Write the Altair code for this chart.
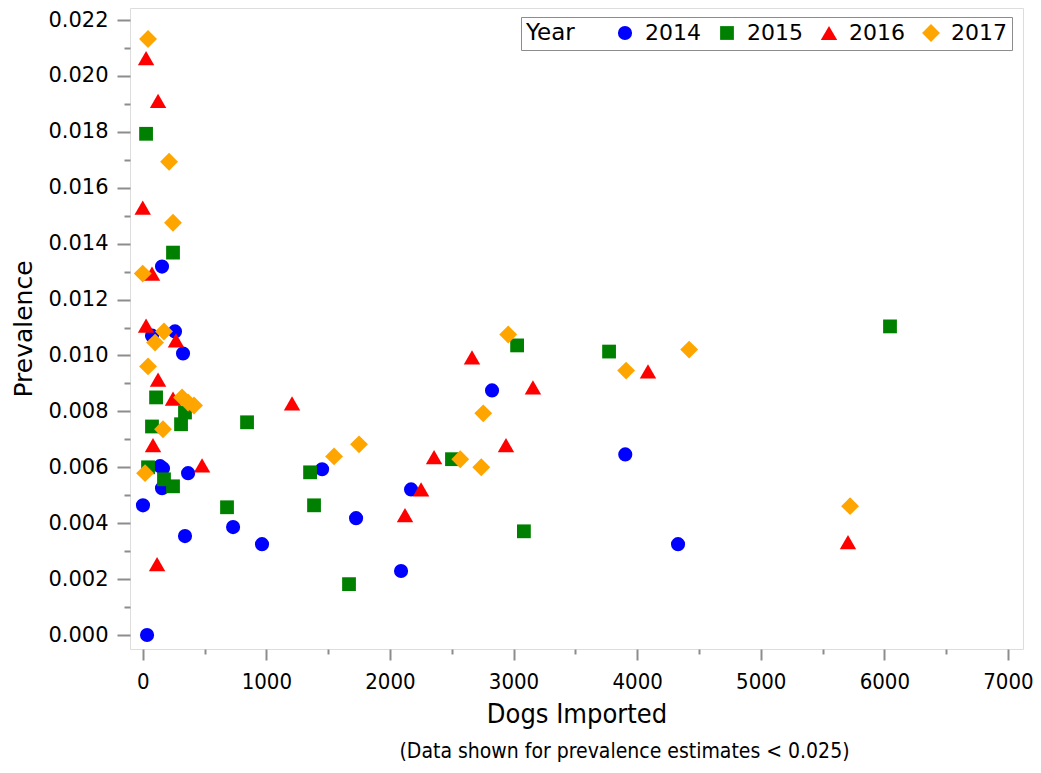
import altair as alt
import pandas as pd

years = ["2014", "2015", "2016", "2017"]
colors = ["#0000FF", "#008000", "#FF0000", "#FFA500"]
shapes = ["circle", "square", "triangle-up", "diamond"]
sizes = [200, 190, 270, 320]

dogs_2014 = [35, 2, 156, 75, 261, 326, 140, 164, 156, 367, 342, 731, 965, 1451, 1726, 2090, 2171, 2826, 3904, 4331]
prev_2014 = [0.0000, 0.00464, 0.01318, 0.01071, 0.01086, 0.01007, 0.00604, 0.00596, 0.00525, 0.00579, 0.00354,
             0.00386, 0.00325, 0.00593, 0.00418, 0.00229, 0.00521, 0.00875, 0.00646, 0.00325]

dogs_2015 = [27, 245, 108, 342, 75, 310, 844, 43, 172, 245, 682, 1354, 1386, 1669, 2502, 3029, 3084, 3773, 6046]
prev_2015 = [0.01793, 0.01368, 0.0085, 0.00796, 0.00746, 0.00754, 0.00761, 0.0060, 0.00557, 0.00532, 0.00457,
             0.00582, 0.00464, 0.00182, 0.00629, 0.01036, 0.00371, 0.01014, 0.01104]

dogs_2016 = [27, 124, 0, 75, 27, 269, 124, 245, 1208, 83, 480, 116, 2357, 2252, 2122, 2664, 2939, 3157, 4088, 5706]
prev_2016 = [0.02064, 0.01911, 0.01529, 0.01293, 0.01107, 0.01054, 0.00914, 0.00846, 0.00829, 0.00679, 0.00607,
             0.00254, 0.00636, 0.00521, 0.00429, 0.00993, 0.00679, 0.00886, 0.00943, 0.00332]

dogs_2017 = [43, 213, 245, 0, 172, 100, 43, 318, 367, 415, 164, 19, 1548, 1750, 2569, 2739, 2755, 2957, 3911, 4421, 5723]
prev_2017 = [0.02132, 0.01693, 0.01475, 0.01293, 0.01086, 0.01046, 0.00961, 0.0085, 0.00832, 0.00821, 0.00736,
             0.00579, 0.00639, 0.00682, 0.00629, 0.0060, 0.00793, 0.01075, 0.00946, 0.01021, 0.00461]

x_major = [0, 1000, 2000, 3000, 4000, 5000, 6000, 7000]
x_minor = [500, 1500, 2500, 3500, 4500, 5500, 6500]
y_major = [0.000, 0.002, 0.004, 0.006, 0.008, 0.010, 0.012, 0.014, 0.016, 0.018, 0.020, 0.022]
y_minor = [0.001, 0.003, 0.005, 0.007, 0.009, 0.011, 0.013, 0.015, 0.017, 0.019, 0.021]

rows = []
for yr, d, p in zip(years, [dogs_2014, dogs_2015, dogs_2016, dogs_2017],
                    [prev_2014, prev_2015, prev_2016, prev_2017]):
    for a, b in zip(d, p):
        rows.append({"year": yr, "dogs": a, "prev": b})
df = pd.DataFrame(rows)

xscale = alt.Scale(domain=[-103, 7122], nice=False, zero=False)
yscale = alt.Scale(domain=[-0.0005, 0.02243], nice=False, zero=False)

GRAY = "#8c8c8c"
COND = "DejaVu Sans Condensed"
SANS = "DejaVu Sans"

legend = alt.Legend(
    title="Year", orient="none", legendX=391, legendY=9, direction="horizontal",
    titleOrient="left", titleFont=SANS, titleFontSize=23, titleFontWeight="normal",
    titleColor="black", titlePadding=39, labelFont=SANS, labelFontSize=22,
    labelColor="black", labelOffset=9, symbolStrokeWidth=0,
    columnPadding=15, padding=5, strokeColor=GRAY, fillColor="white",
)

points = alt.Chart(df).mark_point(filled=True, opacity=1, strokeWidth=0).encode(
    x=alt.X("dogs:Q", scale=xscale, axis=alt.Axis(
        values=x_major, format="d", tickSize=11, tickWidth=2, tickColor=GRAY,
        domain=False, grid=False, labelFont=COND, labelFontSize=22, labelColor="black",
        labelPadding=11, title="Dogs Imported", titleFont=COND, titleFontSize=27,
        titleFontWeight="normal", titleColor="black", titlePadding=9, orient="bottom")),
    y=alt.Y("prev:Q", scale=yscale, axis=alt.Axis(
        values=y_major, format=".3f", tickSize=13, tickWidth=2, tickColor=GRAY,
        domain=False, grid=False, labelFont=SANS, labelFontSize=21, labelColor="black",
        labelPadding=9, title="Prevalence", titleFont=SANS, titleFontSize=25,
        titleFontWeight="normal", titleColor="black", titlePadding=11, orient="left")),
    color=alt.Color("year:N", scale=alt.Scale(domain=years, range=colors), legend=legend),
    shape=alt.Shape("year:N", scale=alt.Scale(domain=years, range=shapes), legend=legend),
    size=alt.Size("year:N", scale=alt.Scale(type="ordinal", domain=years, range=sizes), legend=legend),
)

minor = alt.Chart(df).mark_point(opacity=0).encode(
    x=alt.X("dogs:Q", scale=xscale, axis=alt.Axis(
        values=x_minor, tickSize=5, tickWidth=2, tickColor=GRAY, domain=False,
        grid=False, labels=False, title="", orient="bottom")),
    y=alt.Y("prev:Q", scale=yscale, axis=alt.Axis(
        values=y_minor, tickSize=6, tickWidth=2, tickColor=GRAY, domain=False,
        grid=False, labels=False, title="", orient="left")),
)

chart = alt.layer(points, minor).resolve_axis(x="independent", y="independent").properties(
    width=893, height=641,
    autosize=alt.AutoSizeParams(type="none"),
    padding={"left": 122, "top": 0, "right": 10, "bottom": 115},
    title=alt.Title("(Data shown for prevalence estimates < 0.025)", orient="bottom",
                    font=COND, fontSize=21, fontWeight="normal", color="black",
                    offset=14, dx=48),
).configure_view(stroke=GRAY, strokeWidth=2).configure(background="white")

chart.save("out.html", embed_options={"renderer": "svg", "actions": False})
